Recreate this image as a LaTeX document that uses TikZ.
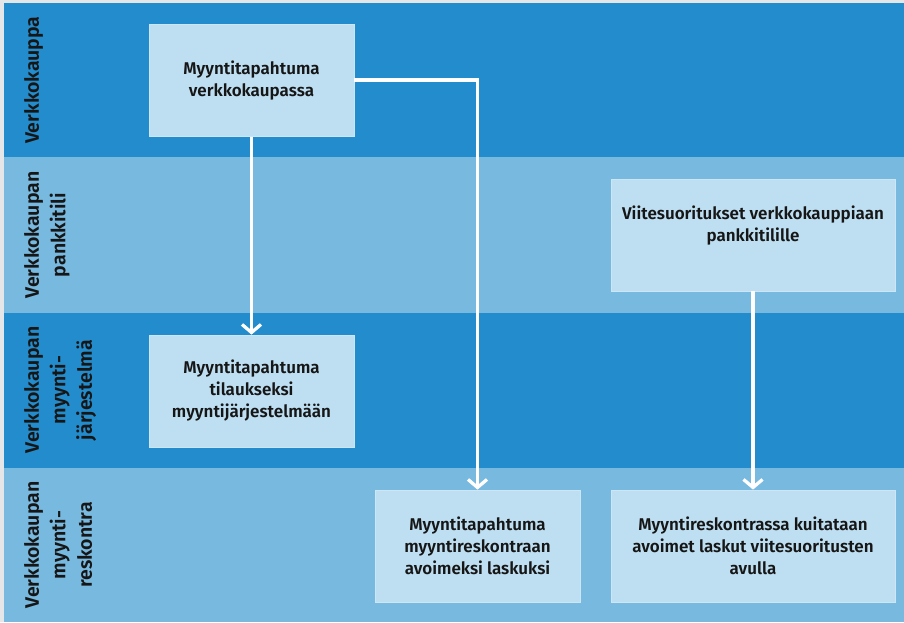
\documentclass[tikz,border=0pt]{standalone}
\usepackage{fontspec}
\setmainfont{Fira Sans}[BoldFont={Fira Sans SemiBold}]
\usetikzlibrary{arrows.meta}
\definecolor{lanedark}{HTML}{238CCD}
\definecolor{lanelight}{HTML}{78B9E0}
\definecolor{boxfill}{HTML}{BEDFF2}
\definecolor{boxline}{HTML}{CCE6F5}
\definecolor{inkcol}{HTML}{161616}
\definecolor{framecol}{HTML}{E4E6E8}
\tikzset{
  lanetitle/.style={rotate=90, anchor=north, align=center, inner sep=0pt,
    font=\fontsize{19.5}{26.5}\selectfont\bfseries, text=inkcol},
  stepbox/.style={draw=boxline, line width=0.8pt, fill=boxfill, align=center,
    inner sep=0pt, font=\fontsize{17}{22}\selectfont\bfseries, text=inkcol},
  boxtext/.style={align=center, inner sep=0pt,
    font=\fontsize{17}{22}\selectfont\bfseries, text=inkcol},
  flow/.style={draw=white, line width=3.3pt,
    -{Straight Barb[length=8pt,width=19pt]}},
}
\begin{document}
\begin{tikzpicture}[x=1pt,y=-1pt]
\useasboundingbox (0,0) rectangle (904,622);
% swimlane bands
\fill[framecol] (0,0) rectangle (904,622);
\fill[lanedark]  (4,3)   rectangle (904,157);
\fill[lanelight] (4,157) rectangle (904,313);
\fill[lanedark]  (4,313) rectangle (904,468);
\fill[lanelight] (4,468) rectangle (904,622);
% lane titles
\node[lanetitle] (t1) at (24,80)  {Verkkokauppa};
\node[lanetitle] (t2) at (24,235) {Verkkokaupan\\pankkitili};
\node[lanetitle] (t3) at (24,390) {Verkkokaupan\\myynti-\\järjestelmä};
\node[lanetitle] (t4) at (24,545) {Verkkokaupan\\myynti-\\reskontra};
% process steps
\node[stepbox, minimum width=205pt, minimum height=112pt] (b1) at (251.5,80.5)
  {Myyntitapahtuma\\verkkokaupassa};
\node[stepbox, minimum width=284pt, minimum height=112pt] (b2) at (753,235) {};
\node[boxtext] (b2t) at (753,226) {Viitesuoritukset verkkokauppiaan\\pankkitilille};
\node[stepbox, minimum width=205pt, minimum height=112pt] (b3) at (251.5,391)
  {Myyntitapahtuma\\tilaukseksi\\myyntijärjestelmään};
\node[stepbox, minimum width=205pt, minimum height=112pt] (b4) at (477.5,546)
  {Myyntitapahtuma\\myyntireskontraan\\avoimeksi laskuksi};
\node[stepbox, minimum width=284pt, minimum height=112pt] (b5) at (753,546)
  {Myyntireskontrassa kuitataan\\avoimet laskut viitesuoritusten\\avulla};
% connectors
\draw[flow] (b1.east |- 0,80) -| (b4.north);
\draw[flow] (b1.south) -- (b3.north);
\draw[flow] (b2.south) -- (b5.north);
\end{tikzpicture}
\end{document}
